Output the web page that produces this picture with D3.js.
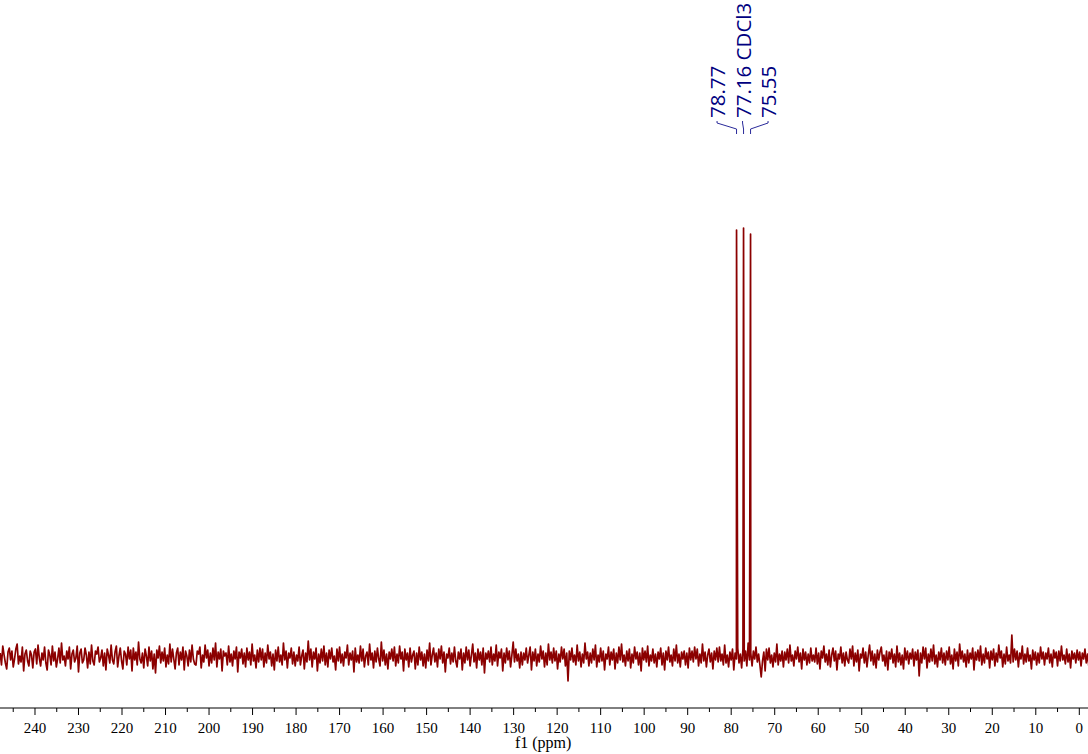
<!DOCTYPE html>
<html><head><meta charset="utf-8">
<script src="https://cdn.jsdelivr.net/npm/d3@7"></script>
<style>html,body{margin:0;padding:0;background:#fff;}svg{display:block;}</style>
</head><body>
<svg id="chart" width="1088" height="754"></svg>
<script>
// ---- data ----
const noiseStart = 248;      // ppm of first noise sample
const noiseStep = 0.3;       // ppm between noise samples
const noise = [
4,-8,11,2,-6,-12,5,9,-3,6,-10,-2,8,13,-7,1,-5,10,-14,3,7,-4,-9,6,2,
-11,5,8,-7,12,-1,-9,4,-3,10,-6,-13,7,2,-8,11,-4,5,-10,-2,9,-6,14,-3,1,
-9,6,-2,10,-12,3,7,-5,-1,11,-15,4,8,-6,-3,9,2,-11,5,-7,12,-4,-8,6,3,
10,-5,-1,7,-9,4,-13,8,2,-6,12,-3,-7,5,11,-10,1,9,-4,-12,6,3,-8,10,-2,
7,-14,9,-3,5,-8,15,-2,-6,4,-11,8,1,-9,10,-4,6,-12,3,-16,7,-1,11,-6,5,
-4,9,-10,2,-7,13,-5,8,-2,-12,4,9,-8,5,-3,10,-13,6,1,-9,7,-5,12,-2,-7,
-8,6,3,10,-11,2,-5,12,-1,7,-9,4,-6,9,-3,14,-10,5,-2,8,-14,6,1,4,-8,
11,-5,3,-9,6,-2,10,-15,5,-1,8,-7,4,-10,9,-3,5,-8,13,-4,2,-11,7,-5,9,
-3,8,-10,4,-6,12,-2,5,-9,3,-13,7,-4,10,-5,2,-8,14,-3,6,-11,4,-1,9,-7,
5,-9,2,-4,10,-8,1,7,-12,4,-5,16,-3,8,-10,5,-2,9,-14,3,-6,8,-4,11,-8,
4,-10,7,-2,9,-5,1,-13,8,-4,10,-6,3,-9,5,-1,12,-8,4,-3,6,-15,9,-5,2,
-6,11,-4,8,-10,1,5,-8,13,-3,4,-11,6,-5,9,-2,-9,15,-4,7,-8,3,-12,5,-2,
8,-4,10,-9,3,-6,11,-2,5,-14,8,-3,4,-10,9,-5,2,6,-12,4,-8,10,-3,5,-9,
3,-11,7,-4,14,-8,2,9,-5,4,-10,8,-2,11,-6,5,-15,3,-1,9,-7,4,-5,10,-4,
-10,5,-2,8,-13,4,-6,10,-3,7,-9,2,13,-5,4,-11,8,-3,5,-8,9,-16,4,-2,6,
-5,10,-8,3,-4,12,-9,5,-1,8,-14,4,-6,9,-3,6,-10,2,15,-5,8,-4,3,-11,5,
-8,4,-3,9,-6,2,10,-13,5,-4,8,-9,3,-5,11,-2,6,-10,4,-8,13,-3,5,-6,9,
-4,6,-12,3,-5,10,-2,8,-9,4,-24,6,-3,9,-5,2,-8,12,-4,5,-10,3,-6,14,-2,
5,-9,4,-6,8,-3,12,-10,2,-5,9,-4,6,-13,3,-2,10,-8,5,-3,8,-12,4,-6,10,
-3,13,-5,2,-9,6,-4,8,-11,3,-6,10,-2,5,-8,4,-14,9,-3,6,-5,11,-9,2,-4,
8,-6,3,-10,5,-2,9,-8,4,-13,6,-3,10,-5,2,-9,8,-4,12,-6,3,-10,5,-2,6,
-8,4,-11,9,-3,6,-5,10,-2,8,-9,3,-6,13,-4,5,-10,2,8,-5,4,-12,6,-3,9,
-5,10,-4,3,-8,12,-6,2,-10,5,-3,8,-13,4,-2,9,-6,3,-11,8,-4,6,-9,14,-3,
4,-9,6,-2,10,-5,3,-8,-20,-4,5,-14,8,-3,9,-6,2,-10,4,-5,13,-8,3,-4,6,
-10,5,-3,8,-6,12,-4,2,-9,6,-2,10,-5,4,-12,8,-3,5,-8,3,-6,9,-4,2,-5,
9,-7,4,-12,6,-1,11,-5,3,-8,7,-10,2,9,-4,6,-13,3,-2,10,-6,4,-9,5,-3,
-6,8,-2,11,-9,4,-5,7,-14,3,-1,9,-6,5,-10,2,12,-4,6,-8,3,-11,7,-3,5,
10,-4,2,-9,6,-13,5,-2,8,-6,3,-10,11,-5,4,-8,2,-12,9,-3,6,-7,4,-2,8,
-9,5,-3,7,-19,4,-6,10,-2,9,-11,3,-5,8,-4,12,-7,2,-10,5,-3,9,-6,4,-8,
6,-3,10,-7,2,-12,8,-4,5,-9,13,-2,6,-5,3,-10,7,-6,4,-2,9,-13,5,-3,7,
-4,11,-8,3,-6,9,-2,5,-11,6,-3,8,-9,4,-5,12,-1,6,-10,3,-7,10,-4,2,-6,
22,-5,8,-3,6,-10,4,-2,11,-7,3,-5,9,-4,2,-12,7,-3,5,-8,4,-6,10,-2,5,
-8,4,-2,9,-6,3,-10,7,-1,5,-9,6,-4,11,-3,2,-7,8,-5,3,-11,6,-2,4,-6,
7,-3,5,-9,4,-2,8,-6,3,-10,6,-4,9,-5,2,-8,5,-3,7,-4,3,-6,4,-2,5
];
const peakPpm = [78.77, 77.16, 75.55];
const peakHeight = [427, 429, 423];
const peakLabels = ["78.77", "77.16 CDCl3", "75.55"];
const xDomain = [248.04, -2.0];
const tickValues = d3.range(0, 241, 10);
const xTitle = "f1 (ppm)";

// ---- build spectrum points ----
const pts = noise.map((v, i) => ({ppm: noiseStart - i * noiseStep, val: v}));
peakPpm.forEach((p, i) => pts.push({ppm: p, val: peakHeight[i]}));
pts.sort((a, b) => b.ppm - a.ppm);

const W = 1088, H = 754;
const svg = d3.select("#chart");
const x = d3.scaleLinear().domain(xDomain).range([0, W]);
const y = d3.scaleLinear().domain([0, 429]).range([657, 228]);
const axisY = 708;

// spectrum line
svg.append("path")
  .datum(pts)
  .attr("fill", "none")
  .attr("stroke", "#8b0000")
  .attr("stroke-width", 1.7)
  .attr("stroke-linejoin", "round")
  .attr("d", d3.line().x(d => x(d.ppm)).y(d => y(d.val)));

// axis
const axisG = svg.append("g").attr("transform", `translate(0,${axisY})`);
axisG.append("line").attr("x1", 0).attr("x2", W).attr("y1", 0).attr("y2", 0)
  .attr("stroke", "#000").attr("stroke-width", 1);
const minor = d3.range(5, 246, 10);
axisG.selectAll("line.minor").data(minor).join("line").attr("class", "minor")
  .attr("x1", d => x(d)).attr("x2", d => x(d)).attr("y1", 0).attr("y2", 4)
  .attr("stroke", "#000").attr("stroke-width", 1);
axisG.selectAll("line.major").data(tickValues).join("line").attr("class", "major")
  .attr("x1", d => x(d)).attr("x2", d => x(d)).attr("y1", 0).attr("y2", 7)
  .attr("stroke", "#000").attr("stroke-width", 1);
axisG.selectAll("text.tl").data(tickValues).join("text").attr("class", "tl")
  .attr("x", d => x(d)).attr("y", 25)
  .attr("text-anchor", "middle")
  .attr("font-family", "'Liberation Serif', 'Times New Roman', serif")
  .attr("font-size", 15).attr("fill", "#000")
  .text(d => d);
svg.append("text").attr("x", x(120) - 14).attr("y", 748)
  .attr("text-anchor", "middle")
  .attr("font-family", "'Liberation Serif', 'Times New Roman', serif")
  .attr("font-size", 16).attr("fill", "#000").text(xTitle);

// peak labels
const midX = x(peakPpm[1]);
const labelX = peakPpm.map((p, i) => midX - 1 + (i - 1) * 25.5);
const lab = svg.append("g");
peakPpm.forEach((p, i) => {
  const px = x(p), lx = labelX[i];
  lab.append("path")
    .attr("d", `M${lx},121 L${lx},123 L${px},129 L${px},134`)
    .attr("fill", "none").attr("stroke", "#2a2a9a").attr("stroke-width", 1);
  lab.append("text")
    .attr("transform", `translate(${lx},118) rotate(-90)`)
    .attr("dominant-baseline", "central")
    .attr("text-anchor", "start")
    .attr("font-family", "'Open Sans', 'Noto Sans', sans-serif")
    .attr("font-size", 20.5)
    .attr("fill", "#000080")
    .text(peakLabels[i]);
});
</script>
</body></html>
